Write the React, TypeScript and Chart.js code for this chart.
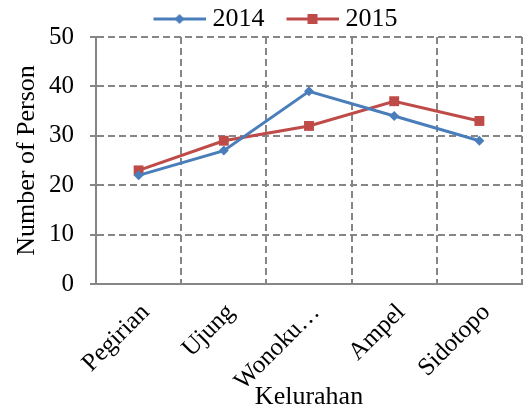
import React, { useEffect, useRef } from "react";
import { Chart, registerables } from "chart.js";

Chart.register(...registerables);

const categories = ["Pegirian", "Ujung", "Wonoku…", "Ampel", "Sidotopo"];
const series2014 = [22, 27, 39, 34, 29];
const series2015 = [23, 29, 32, 37, 33];
const seriesLabels = ["2014", "2015"];
const yMin = 0;
const yMax = 50;
const yStep = 10;

const BLUE = "#4A7EBB";
const RED = "#BE4B48";
const GRID = "#868686";
const FONT_FAMILY = "'Liberation Serif', 'Times New Roman', serif";

// legend icon: transparent left margin, then a 52px line with the marker in its middle
function legendIcon(color: string, marker: "diamond" | "square"): HTMLCanvasElement {
  const c = document.createElement("canvas");
  c.width = 83;
  c.height = 14;
  const ctx = c.getContext("2d")!;
  const x0 = 31;
  const x1 = 83;
  const cx = (x0 + x1) / 2;
  ctx.strokeStyle = color;
  ctx.lineWidth = 3;
  ctx.beginPath();
  ctx.moveTo(x0, 7);
  ctx.lineTo(x1, 7);
  ctx.stroke();
  ctx.fillStyle = color;
  if (marker === "diamond") {
    ctx.beginPath();
    ctx.moveTo(cx, 2);
    ctx.lineTo(cx + 5, 7);
    ctx.lineTo(cx, 12);
    ctx.lineTo(cx - 5, 7);
    ctx.closePath();
    ctx.fill();
  } else {
    ctx.fillRect(cx - 5, 2, 10, 10);
  }
  return c;
}

// trims the legend box height a little so the plot area starts closer under it
const legendTighten = {
  id: "legendTighten",
  beforeLayout(chart: any) {
    const lg = chart.legend;
    if (lg && !lg.__tightened) {
      const orig = lg.fit.bind(lg);
      lg.fit = function () {
        orig();
        this.height -= 5;
      };
      lg.__tightened = true;
    }
  },
};

export default function App() {
  const ref = useRef<HTMLCanvasElement | null>(null);

  useEffect(() => {
    document.body.style.margin = "0";
    const icons = [legendIcon(BLUE, "diamond"), legendIcon(RED, "square")];
    const tickFont = { family: FONT_FAMILY, size: 25 };
    const titleFont = { family: FONT_FAMILY, size: 26 };
    const chart = new Chart(ref.current!, {
      type: "line",
      data: {
        labels: categories,
        datasets: [
          {
            label: seriesLabels[0],
            data: series2014,
            borderColor: BLUE,
            backgroundColor: BLUE,
            borderWidth: 3,
            pointStyle: "rectRot",
            pointRadius: 5,
            pointBorderWidth: 0,
            tension: 0,
          },
          {
            label: seriesLabels[1],
            data: series2015,
            borderColor: RED,
            backgroundColor: RED,
            borderWidth: 3,
            pointStyle: "rect",
            pointRadius: 7,
            pointBorderWidth: 0,
            tension: 0,
          },
        ],
      },
      plugins: [legendTighten],
      options: {
        responsive: true,
        maintainAspectRatio: false,
        animation: false,
        layout: { padding: { top: 9, right: 3, bottom: -3, left: 0 } },
        plugins: {
          tooltip: { enabled: false },
          legend: {
            position: "top",
            labels: {
              usePointStyle: true,
              pointStyleWidth: 71,
              color: "#000",
              font: titleFont,
              padding: -3,
              generateLabels: (ch: any) =>
                ch.data.datasets.map((ds: any, i: number) => ({
                  text: ds.label,
                  pointStyle: icons[i],
                  fillStyle: ds.borderColor,
                  strokeStyle: ds.borderColor,
                  lineWidth: 0,
                  hidden: false,
                  datasetIndex: i,
                  fontColor: "#000",
                })),
            },
          },
        },
        scales: {
          x: {
            type: "category",
            offset: true,
            grid: {
              offset: true,
              color: (c: any) => (c.index === categories.length ? "rgba(0,0,0,0)" : GRID),
              lineWidth: 2,
              drawTicks: false,
            },
            border: { display: true, color: GRID, width: 2, dash: [7, 4] },
            ticks: {
              font: tickFont,
              color: "#000",
              maxRotation: 45,
              minRotation: 45,
              autoSkip: false,
              padding: 14,
              labelOffset: 7,
            },
            title: {
              display: true,
              text: "Kelurahan",
              font: titleFont,
              color: "#000",
              padding: { top: 0, bottom: 0 },
            },
            afterFit: (s: any) => {
              s.height = 129;
            },
          },
          y: {
            min: yMin,
            max: yMax,
            ticks: { stepSize: yStep, font: tickFont, color: "#000", padding: 16 },
            grid: { color: GRID, lineWidth: 2, tickLength: 6, drawTicks: true },
            border: { display: true, color: GRID, width: 2, dash: [7, 4] },
            title: {
              display: true,
              text: "Number of Person",
              font: titleFont,
              color: "#000",
              padding: { top: 12, bottom: 0 },
            },
            afterFit: (s: any) => {
              s.width = 96;
            },
          },
        },
      } as any,
    });
    return () => chart.destroy();
  }, []);

  return (
    <div style={{ position: "absolute", left: 0, top: 0, width: 529, height: 410 }}>
      <canvas ref={ref} />
    </div>
  );
}
